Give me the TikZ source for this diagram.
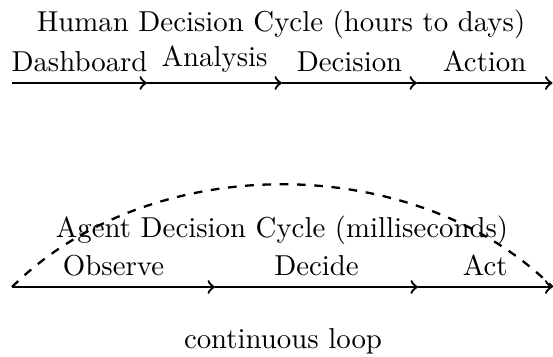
\documentclass[tikz,border=0pt]{standalone}
\begin{document}
\begin{tikzpicture}[x=0.347pt,y=-0.347pt,
  flow/.style={->,thick},
  loopline/.style={dashed,thick},
  lbl/.style={midway,above}]
\useasboundingbox (0,0) rectangle (553,356);
% human cycle
\node[anchor=base] (htitle) at (281,32) {Human Decision Cycle (hours to days)};
\coordinate (h0) at (12,83);
\coordinate (h1) at (147,83);
\coordinate (h2) at (282,83);
\coordinate (h3) at (417,83);
\coordinate (h4) at (552.5,83);
\draw[flow] (h0) -- (h1) node[lbl] {Dashboard};
\draw[flow] (h1) -- (h2) node[lbl] {Analysis};
\draw[flow] (h2) -- (h3) node[lbl] {Decision};
\draw[flow] (h3) -- (h4) node[lbl] {Action};
% agent cycle
\node[anchor=base] (atitle) at (282,237) {Agent Decision Cycle (milliseconds)};
\coordinate (a0) at (12,287);
\coordinate (a1) at (215,287);
\coordinate (a2) at (418,287);
\coordinate (a3) at (552.5,287);
\draw[flow] (a0) -- (a1) node[lbl] {Observe};
\draw[flow] (a1) -- (a2) node[lbl] {Decide};
\draw[flow] (a2) -- (a3) node[lbl] {Act};
\draw[loopline] (a0) .. controls (150,150) and (414,150) .. (a3);
\node[anchor=base] (loop) at (283,348) {continuous loop};
\end{tikzpicture}
\end{document}
